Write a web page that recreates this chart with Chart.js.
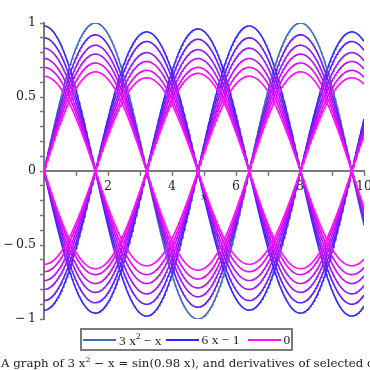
<!DOCTYPE html>
<html>
<head>
<meta charset="utf-8">
<script src="https://cdn.jsdelivr.net/npm/chart.js@4/dist/chart.umd.min.js"></script>
<style>
  body { margin: 0; width: 370px; height: 370px; overflow: hidden; position: relative; background: #fff; font-family: "DejaVu Serif", serif; }
  #wrap { position: absolute; left: 0; top: 0; width: 370px; height: 370px; }
  #xlab { position: absolute; left: 201px; top: 191px; font-size: 10px; font-style: italic; color: #222; }
  #legend { position: absolute; left: 80px; top: 328px; width: 213px; height: 23px; box-sizing: border-box; border: 2px solid #7a7a7a; display: flex; align-items: center; font-family: "Liberation Serif", serif; font-size: 13.5px; color: #222; white-space: nowrap; }
  #legend .ln { display: inline-block; width: 33px; height: 0; border-top: 2px solid; margin-right: 3px; }
  #legend sup { font-size: 9px; }
  #caption { position: absolute; left: 1px; top: 355px; font-size: 11.8px; color: #222; white-space: nowrap; }
</style>
</head>
<body>
<div id="wrap"><canvas id="plot"></canvas></div>
<div id="xlab">x</div>
<div id="legend">
  <span class="ln" style="border-color:#3a6cb8;margin-left:1px"></span><span>3 x<sup>2</sup> − x</span>
  <span class="ln" style="border-color:#2a2aff;margin-left:4px"></span><span>6 x − 1</span>
  <span class="ln" style="border-color:#ff10ff;margin-left:8px"></span><span>0</span>
</div>
<div id="caption">A graph of 3 x<sup style="font-size:8px">2</sup> − x = sin(0.98 x), and derivatives of selected curves</div>
<script>
// frequency from the caption, amplitudes
const omega = 0.98;
const ampSinUp = [1.0, 0.92, 0.85, 0.79, 0.73, 0.67];
const ampSinDown = [0.96, 0.89, 0.82, 0.76, 0.70, 0.66];
const ampCosUp = [0.98, 0.90, 0.83, 0.76, 0.70, 0.64];
const ampCosDown = [0.94, 0.875, 0.80, 0.74, 0.68, 0.63];
const shadeColors = ["#2a2aff", "#6a18ff", "#9418fa", "#bb10f6", "#e008fa", "#ff10ff"];
const xTickLabels = [2, 4, 6, 8, 10];
const yTickLabels = [-1, -0.5, 0, 0.5, 1];

const xs = [];
for (let i = 0; i <= 500; i++) xs.push(i * 0.02);

function curve(amp, sign, fn) {
  return xs.map((x) => ({ x: x, y: sign * amp * fn(omega * x) }));
}

const families = [
  { amps: ampSinUp, sign: 1, fn: Math.sin, first: "#3a6cb8" },
  { amps: ampSinDown, sign: -1, fn: Math.sin },
  { amps: ampCosUp, sign: 1, fn: Math.cos },
  { amps: ampCosDown, sign: -1, fn: Math.cos },
];

const datasets = [];
families.forEach((fam) => {
  fam.amps.forEach((a, k) => {
    datasets.push({
      data: curve(a, fam.sign, fam.fn),
      borderColor: k === 0 && fam.first ? fam.first : shadeColors[k],
      borderWidth: 1.6,
      pointRadius: 0,
      tension: 0,
      order: shadeColors.length - k,
    });
  });
});

function fmt(v) {
  if (v === 0) return "0";
  const s = String(Math.abs(v));
  return v < 0 ? "\u2212\u2009" + s : s;
}

new Chart(document.getElementById("plot").getContext("2d"), {
  type: "line",
  data: { datasets: datasets },
  options: {
    responsive: true,
    maintainAspectRatio: false,
    animation: false,
    devicePixelRatio: 1,
    layout: { padding: { left: 0, right: 6, top: 23, bottom: 51 } },
    plugins: { legend: { display: false }, tooltip: { enabled: false } },
    scales: {
      x: {
        type: "linear",
        min: 0,
        max: 10,
        position: { y: 0 },
        afterFit: (scale) => { scale.paddingLeft = 0; scale.paddingRight = 0; },
        border: { color: "#7a7a7a", width: 2 },
        grid: { drawOnChartArea: false, tickLength: 4, color: "#7a7a7a", tickWidth: 1.5 },
        ticks: {
          stepSize: 1,
          autoSkip: false,
          maxRotation: 0,
          padding: 4,
          color: "#222",
          font: { family: "DejaVu Serif", size: 12.5 },
          callback: (v) => (xTickLabels.includes(v) ? String(v) : ""),
        },
      },
      y: {
        type: "linear",
        min: -1,
        max: 1,
        position: "left",
        afterFit: (scale) => { scale.width = 44; },
        border: { color: "#7a7a7a", width: 2 },
        grid: { drawOnChartArea: false, tickLength: 4, color: "#7a7a7a", tickWidth: 1.5 },
        ticks: {
          stepSize: 0.1,
          autoSkip: false,
          maxTicksLimit: 30,
          padding: 4,
          color: "#222",
          font: { family: "DejaVu Serif", size: 12.5 },
          callback: (v) => {
            const hit = yTickLabels.find((t) => Math.abs(t - v) < 1e-6);
            return hit === undefined ? "" : fmt(hit);
          },
        },
      },
    },
  },
});
</script>
</body>
</html>
